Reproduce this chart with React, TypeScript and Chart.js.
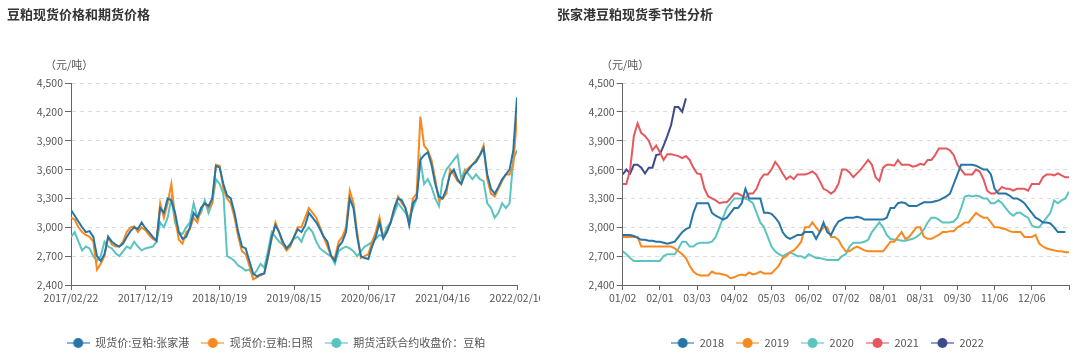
import React, { useEffect, useRef } from 'react';
import { Chart, registerables } from 'chart.js';
Chart.register(...registerables);

const FONT = "'Noto Sans CJK SC', 'Noto Sans', sans-serif";

// ---------- Left chart data ----------
const leftTitle = '豆粕现货价格和期货价格';
const unitLabel = '（元/吨）';
const leftTickLabels = ['2017/02/22', '2017/12/19', '2018/10/19', '2019/08/15', '2020/06/17', '2021/04/16', '2022/02/16'];
const leftNames = ['现货价:豆粕:张家港', '现货价:豆粕:日照', '期货活跃合约收盘价：豆粕'];

const spotZhangjiagang = [
  3180, 3120, 3060, 3000, 2950, 2960, 2900, 2700, 2650, 2720,
  2900, 2850, 2820, 2800, 2830, 2900, 2960, 3000, 2980, 3050,
  2990, 2950, 2900, 2860, 3200, 3150, 3300, 3280, 3150, 2950,
  2880, 2900, 3000, 3150, 3100, 3200, 3250, 3220, 3300, 3640,
  3620, 3450, 3330, 3300, 3150, 2950, 2800, 2780, 2650, 2520,
  2490, 2510, 2520, 2700, 2900, 3020, 2950, 2850, 2780, 2820,
  2900, 2980, 2950, 3020, 3150, 3100, 3050, 2980, 2900, 2850,
  2700, 2650, 2800, 2850, 2950, 3300, 3200, 2900, 2700, 2680,
  2670, 2800, 2900, 3050, 2880, 2950, 3050, 3200, 3300, 3280,
  3200, 3020, 3250, 3300, 3700, 3750, 3780, 3650, 3450, 3320,
  3300, 3400, 3550, 3600, 3500, 3450, 3550, 3600, 3650, 3680,
  3750, 3820, 3550, 3400, 3350, 3420, 3500, 3550, 3600, 3800,
  4350,
];
const spotRizhao = [
  3100, 3080, 3000, 2950, 2920, 2900, 2850, 2560, 2620, 2700,
  2900, 2820, 2800, 2800, 2850, 2950, 3000, 3010, 2950, 3000,
  2970, 2920, 2880, 2860, 3250, 3100, 3250, 3450, 3100, 2870,
  2830, 2950, 2980, 3100, 3050, 3200, 3250, 3200, 3250, 3650,
  3640, 3400, 3300, 3250, 3100, 2900, 2750, 2720, 2600, 2460,
  2480, 2500, 2520, 2680, 2880, 3050, 2950, 2820, 2760, 2800,
  2900, 3000, 3000, 3100, 3200, 3150, 3100, 3000, 2900, 2800,
  2700, 2680, 2850, 2900, 3000, 3380, 3250, 2950, 2680, 2700,
  2720, 2850, 2950, 3100, 2900, 2950, 3050, 3200, 3320, 3250,
  3200, 3050, 3300, 3350, 4150, 3850, 3800, 3700, 3500, 3280,
  3300, 3350, 3600, 3550, 3480, 3450, 3580, 3620, 3650, 3700,
  3750, 3850, 3500, 3350, 3320, 3400, 3480, 3550, 3550, 3650,
  4150,
];
const futuresClose = [
  2900, 2950, 2850, 2760, 2800, 2780, 2700, 2650, 2700, 2850,
  2800, 2780, 2730, 2700, 2750, 2800, 2780, 2850, 2800, 2760,
  2780, 2790, 2800, 2850, 3050, 3000, 3100, 3300, 3050, 2950,
  2930, 3000, 3050, 3250, 3100, 3150, 3280, 3150, 3250, 3500,
  3450, 3350, 2700, 2680, 2650, 2600, 2580, 2550, 2560, 2500,
  2550, 2620, 2580, 2750, 2950, 2900, 2850, 2820, 2780, 2830,
  2880, 2900, 2850, 2950, 3000, 2950, 2850, 2780, 2750, 2720,
  2700, 2620, 2750, 2780, 2800, 2780, 2750, 2700, 2750, 2800,
  2820, 2850, 2880, 2920, 2900, 3000, 3050, 3150, 3250, 3200,
  3150, 3100, 3200, 3300, 3700, 3450, 3500, 3420, 3300, 3220,
  3500, 3600, 3650, 3700, 3750, 3500, 3600, 3550, 3500, 3550,
  3500, 3480, 3250, 3200, 3100, 3150, 3250, 3200, 3250, 3700,
  3800,
];

// ---------- Right chart data ----------
const rightTitle = '张家港豆粕现货季节性分析';
const seasonTickLabels = ['01/02', '02/01', '03/03', '04/02', '05/03', '06/02', '07/02', '08/01', '08/31', '09/30', '11/06', '12/06', ''];
const seasonNames = ['2018', '2019', '2020', '2021', '2022'];

const season2018 = [
  2920, 2920, 2920, 2910, 2890, 2870, 2870, 2860, 2860, 2850,
  2850, 2840, 2830, 2840, 2850, 2900, 2950, 2980, 3000, 3150,
  3250, 3250, 3250, 3250, 3150, 3120, 3100, 3080, 3100, 3150,
  3200, 3200, 3250, 3400, 3300, 3300, 3300, 3300, 3150, 3150,
  3140, 3100, 3050, 2950, 2900, 2880, 2900, 2920, 2920, 2950,
  2950, 2950, 2880, 2950, 3050, 2950, 2920, 3000, 3060, 3080,
  3100, 3100, 3100, 3110, 3100, 3080, 3080, 3080, 3080, 3080,
  3080, 3100, 3200, 3200, 3250, 3260, 3250, 3220, 3220, 3220,
  3240, 3260, 3260, 3260, 3270, 3280, 3300, 3320, 3350, 3450,
  3550, 3650, 3650, 3650, 3650, 3640, 3620, 3600, 3600, 3550,
  3400, 3350, 3350, 3350, 3330, 3300, 3300, 3280, 3250, 3200,
  3150, 3100, 3080, 3050, 3050, 3040, 3000, 2950, 2950, 2950,
];
const season2019 = [
  2900, 2900, 2900, 2900, 2900, 2800, 2800, 2800, 2800, 2800,
  2800, 2800, 2800, 2800, 2780, 2750, 2720, 2680, 2600, 2540,
  2510, 2500, 2500, 2500, 2540, 2520, 2520, 2510, 2500, 2470,
  2480, 2500, 2510, 2500, 2530, 2510, 2520, 2540, 2520, 2520,
  2520, 2560, 2600, 2680, 2700, 2740, 2760, 2800, 2850, 3000,
  3000, 3050, 3000, 2950, 3000, 3000, 2900, 2900, 2870, 2800,
  2750, 2750, 2780, 2800, 2780, 2760, 2750, 2750, 2750, 2750,
  2750, 2800, 2850, 2850, 2900, 2950, 2880, 2900, 2950, 3000,
  3000, 2900, 2880, 2880, 2900, 2920, 2950, 2950, 2960, 2960,
  3000, 3020, 3050, 3050, 3100, 3150, 3120, 3100, 3100, 3050,
  3000, 3000, 2990, 2980, 2960, 2950, 2950, 2950, 2900, 2900,
  2900, 2920, 2830, 2800, 2780, 2770, 2760, 2750, 2750, 2740,
  2740,
];
const season2020 = [
  2750, 2720, 2680, 2650, 2650, 2650, 2650, 2650, 2650, 2650,
  2650, 2700, 2720, 2720, 2720, 2780, 2850, 2850, 2800, 2800,
  2830, 2840, 2840, 2840, 2850, 2900, 3000, 3100, 3200, 3250,
  3300, 3300, 3300, 3300, 3280, 3250, 3150, 3050, 3000, 2900,
  2800, 2750, 2720, 2700, 2720, 2740, 2720, 2700, 2700, 2680,
  2720, 2700, 2680, 2680, 2670, 2660, 2660, 2660, 2660, 2700,
  2720, 2800, 2840, 2840, 2840, 2850, 2870, 2950, 3000, 3050,
  3000, 2920, 2880, 2870, 2870, 2860, 2860, 2870, 2880, 2900,
  2930, 2980, 3050, 3100, 3100, 3080, 3050, 3050, 3050, 3060,
  3100, 3200, 3320, 3330, 3320, 3330, 3320, 3300, 3300, 3250,
  3250, 3280, 3250, 3200, 3150, 3120, 3150, 3150, 3120, 3100,
  3020, 3000, 3000, 3050, 3100, 3150, 3280, 3250, 3280, 3300,
  3370,
];
const season2021 = [
  3450, 3450, 3600, 3950, 4080, 3980, 3950, 3900, 3800, 3850,
  3780, 3700, 3760, 3760, 3750, 3740, 3720, 3740, 3700, 3620,
  3560, 3550, 3400, 3320, 3300, 3280, 3250, 3260, 3260, 3300,
  3350, 3350, 3330, 3300, 3350, 3350, 3400, 3500, 3550, 3550,
  3600, 3680, 3630, 3560, 3500, 3530, 3500, 3550, 3550, 3550,
  3560, 3580, 3550, 3480, 3400, 3380, 3350, 3380, 3450, 3600,
  3600, 3570, 3520, 3560, 3600, 3650, 3700, 3650, 3520, 3480,
  3620, 3650, 3650, 3640, 3700, 3650, 3650, 3650, 3630, 3640,
  3660, 3650, 3700, 3700, 3750, 3820, 3820, 3820, 3800, 3750,
  3650, 3600, 3550, 3550, 3550, 3600, 3580, 3500, 3380, 3350,
  3350, 3380, 3420, 3400, 3400, 3380, 3400, 3400, 3400, 3380,
  3450, 3450, 3450, 3520, 3550, 3550, 3540, 3560, 3540, 3520,
  3520,
];
const season2022 = [3550, 3600, 3560, 3650, 3650, 3620, 3560, 3620, 3620, 3750, 3760, 3850, 3950, 4060, 4250, 4250, 4200, 4340];

const yMin = 2400;
const yMax = 4500;
const yStep = 300;

const leftColors = ['#2576a6', '#f7891f', '#5bc3c0'];
const seasonColors = ['#2576a6', '#f7891f', '#5bc3c0', '#e4585e', '#3d4a8c'];

function makeIcon(color: string) {
  const c = document.createElement('canvas');
  c.width = 23;
  c.height = 12;
  const ctx = c.getContext('2d')!;
  ctx.globalAlpha = 0.55;
  ctx.strokeStyle = color;
  ctx.lineWidth = 2;
  ctx.beginPath();
  ctx.moveTo(0, 6);
  ctx.lineTo(23, 6);
  ctx.stroke();
  ctx.globalAlpha = 1;
  ctx.fillStyle = color;
  ctx.beginPath();
  ctx.arc(11.5, 6, 5, 0, Math.PI * 2);
  ctx.fill();
  return c;
}

type Cfg = {
  series: number[][];
  names: string[];
  colors: string[];
  tickLabels: string[];
  step: number;
  padLeft: number;
  padRight: number;
  axisWidth: number;
};

function buildConfig(cfg: Cfg): any {
  const max = (cfg.tickLabels.length - 1) * cfg.step;
  const icons = cfg.colors.map(makeIcon);
  const datasets = cfg.series.map((s, k) => ({
    label: cfg.names[k],
    data: s.map((v, i) => ({ x: i, y: v })),
    borderColor: cfg.colors[k],
    backgroundColor: cfg.colors[k],
    borderWidth: 2,
    pointRadius: 0,
    pointHoverRadius: 0,
    tension: 0,
    fill: false,
  }));
  return {
    type: 'line',
    data: { datasets },
    options: {
      responsive: false,
      animation: false,
      events: [],
      layout: { padding: { left: cfg.padLeft, right: cfg.padRight, top: 83, bottom: 4.5 } },
      plugins: {
        title: { display: false },
        tooltip: { enabled: false },
        legend: {
          display: true,
          position: 'bottom',
          align: 'center',
          labels: {
            usePointStyle: true,
            pointStyleWidth: 23,
            padding: 12,
            color: '#555',
            font: { size: 11, family: FONT },
            generateLabels: (chart: any) => {
              const items = (Chart.defaults.plugins.legend.labels as any).generateLabels(chart);
              return items.map((it: any, i: number) => ({ ...it, pointStyle: icons[i], fontColor: '#555' }));
            },
          },
        },
      },
      scales: {
        x: {
          type: 'linear',
          min: 0,
          max,
          ticks: {
            stepSize: cfg.step,
            autoSkip: false,
            maxRotation: 0,
            padding: 2,
            color: '#555',
            font: { size: 10.5, family: FONT },
            callback: (v: number) => {
              const idx = Math.round(v / cfg.step);
              return cfg.tickLabels[idx] ?? '';
            },
          },
          grid: { drawOnChartArea: false, drawTicks: true, tickLength: 5, color: '#666' },
          border: { display: true, color: '#666', width: 1 },
          afterFit: (s: any) => {
            s.height = 40.5;
            s.paddingLeft = 0;
            s.paddingRight = 0;
          },
        },
        y: {
          min: yMin,
          max: yMax,
          ticks: {
            stepSize: yStep,
            padding: 2,
            color: '#555',
            font: { size: 10.5, family: FONT },
            callback: (v: number) => Number(v).toLocaleString('en-US'),
          },
          grid: { color: '#dcdcdc', tickColor: '#666', tickLength: 6, tickBorderDash: [], lineWidth: 1 },
          border: { display: true, color: '#666', width: 1, dash: [4, 4] },
          afterFit: (s: any) => {
            s.width = cfg.axisWidth;
            s.paddingTop = 0;
            s.paddingBottom = 0;
          },
        },
      },
    },
  };
}

function ChartCanvas({ cfg, left, width }: { cfg: Cfg; left: number; width: number }) {
  const ref = useRef<HTMLCanvasElement>(null);
  useEffect(() => {
    if (!ref.current) return;
    const chart = new Chart(ref.current, buildConfig(cfg));
    return () => chart.destroy();
  }, []);
  return (
    <canvas
      ref={ref}
      width={width}
      height={363}
      style={{ position: 'absolute', left, top: 0, width, height: 363 }}
    />
  );
}

const titleStyle: React.CSSProperties = {
  position: 'absolute',
  top: 5,
  fontFamily: FONT,
  fontWeight: 'bold',
  fontSize: 13,
  lineHeight: '18px',
  color: '#333',
  whiteSpace: 'nowrap',
};
const unitStyle: React.CSSProperties = {
  position: 'absolute',
  top: 56,
  fontFamily: FONT,
  fontSize: 11,
  lineHeight: '16px',
  color: '#555',
  whiteSpace: 'nowrap',
};

export default function App() {
  const leftCfg: Cfg = {
    series: [spotZhangjiagang, spotRizhao, futuresClose],
    names: leftNames,
    colors: leftColors,
    tickLabels: leftTickLabels,
    step: 20,
    padLeft: 35,
    padRight: 540 - 517,
    axisWidth: 71 - 35,
  };
  const rightCfg: Cfg = {
    series: [season2018, season2019, season2020, season2021, season2022],
    names: seasonNames,
    colors: seasonColors,
    tickLabels: seasonTickLabels,
    step: 10,
    padLeft: 46,
    padRight: 540 - 529,
    axisWidth: 82.7 - 46,
  };
  return (
    <div style={{ position: 'fixed', left: 0, top: 0, width: 1080, height: 363, background: '#fff', overflow: 'hidden' }}>
      <ChartCanvas cfg={leftCfg} left={0} width={540} />
      <ChartCanvas cfg={rightCfg} left={540} width={540} />
      <div style={{ ...titleStyle, left: 7 }}>{leftTitle}</div>
      <div style={{ ...titleStyle, left: 557 }}>{rightTitle}</div>
      <div style={{ ...unitStyle, left: 45 }}>{unitLabel}</div>
      <div style={{ ...unitStyle, left: 601 }}>{unitLabel}</div>
    </div>
  );
}
